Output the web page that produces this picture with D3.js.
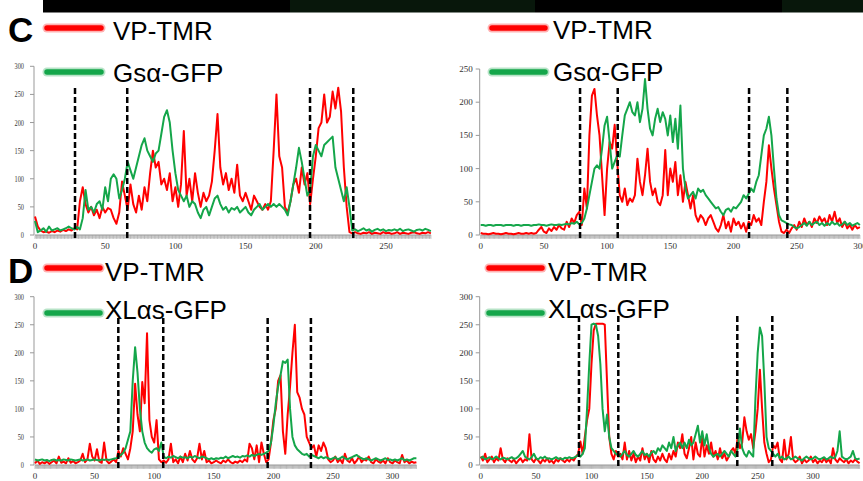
<!DOCTYPE html>
<html lang="en">
<head>
<meta charset="UTF-8">
<title></title>
<style>
    body { margin: 0; background: #fff; }
    svg { display: block; }
    .tick-label { font-family: "Liberation Serif", "Times New Roman", serif; font-size: 9px; fill: #333; }
    .legend-label { font-family: "Liberation Sans", Arial, sans-serif; font-size: 26px; fill: #000; }
    .panel-letter { font-family: "Liberation Sans", Arial, sans-serif; font-size: 35px; font-weight: bold; fill: #000; }
</style>
</head>
<body>
<svg id="chart" width="863" height="481"></svg>
<script src="https://cdnjs.cloudflare.com/ajax/libs/d3/7.8.5/d3.min.js"></script>
<script>
// profiles sampled every 2 px along the line scan
var sampleStep = 2;

var redName = "VP-TMR";
var gsName = "Gsα-GFP";
var xlName = "XLαs-GFP";

var cLeftRed = [33,15,8,5,6,4,7,5,8,6,9,7,10,8,12,10,
    60,85,55,40,50,35,45,30,50,40,48,45,30,20,40,95,
    70,45,90,55,40,70,45,85,60,110,150,120,130,90,100,80,
    110,60,85,50,90,185,70,100,60,110,75,50,75,60,70,95,
    150,215,120,90,110,80,100,75,125,70,60,75,60,45,70,60,
    50,45,55,45,60,150,250,140,120,50,40,60,90,100,75,120,
    90,110,55,100,140,190,200,250,200,210,255,225,262,220,120,50,
    5,3,5,3,2,4,3,5,2,4,3,2,5,3,4,2,
    3,5,2,4,3,2,4,5,3,2,4,3,5,3];
var cLeftGreen = [25,5,8,12,6,15,8,10,12,8,10,12,15,12,10,14,
    10,30,80,45,50,40,55,60,45,85,60,100,108,100,65,80,
    100,130,115,100,120,140,160,172,150,140,130,145,150,180,210,222,
    200,150,110,80,70,60,70,50,60,55,40,30,45,50,35,50,
    65,70,55,45,50,40,48,45,50,40,45,50,40,35,45,50,
    55,45,50,55,50,55,50,55,50,45,35,60,90,120,155,130,
    100,70,80,140,160,150,140,160,165,170,175,120,100,80,60,85,
    50,8,10,7,9,12,8,10,6,9,11,8,10,7,9,8,
    10,8,11,7,9,10,8,6,9,10,8,11,9,7];

var cRightRed = [3,2,2,1,2,3,2,2,1,2,3,2,2,1,2,3,2,2,3,2,3,2,3,
    8,12,5,3,10,6,12,8,15,10,8,20,12,25,18,30,
    35,15,70,40,150,210,220,180,150,90,30,100,140,130,166,110,
    60,50,70,45,55,50,60,115,80,60,90,130,80,60,70,50,
    45,60,128,60,100,80,110,60,90,50,80,60,40,60,30,20,
    30,25,15,25,30,20,10,5,15,30,10,20,5,25,15,20,
    10,18,5,20,15,30,20,25,15,50,80,135,100,70,45,20,
    5,3,8,3,10,15,8,20,12,25,15,20,12,25,18,28,
    20,25,15,30,20,35,18,25,12,20,10,15,8,15,10,12];
var cRightGreen = [15,15,14,15,15,14,15,15,15,14,15,15,15,14,15,15,14,15,15,15,14,15,15,16,15,15,14,15,16,15,15,16,15,16,17,
    16,18,17,20,16,18,25,40,60,80,100,105,100,130,165,178,
    140,100,110,120,118,150,180,190,200,185,180,200,170,190,235,190,
    160,150,175,190,170,185,175,150,180,140,175,130,195,100,70,55,
    60,65,55,70,65,68,60,55,50,45,40,42,35,30,38,40,
    35,42,40,45,50,60,55,62,70,65,80,90,120,150,160,178,
    150,100,55,30,22,20,18,16,15,12,10,12,15,18,14,20,
    15,18,20,15,18,14,18,15,20,16,18,14,16,20,15,18,
    14,16,18,15];

var dLeftRed = [3,8,2,5,3,6,2,5,8,3,15,4,6,3,12,4,
    7,3,5,8,20,5,10,38,15,8,28,6,4,40,8,3,
    6,10,5,25,15,30,20,10,30,60,145,90,60,148,110,235,
    80,50,40,80,10,5,8,4,10,38,5,10,3,15,5,20,
    8,25,10,5,12,38,10,25,5,8,3,5,8,5,3,8,
    5,10,5,3,6,4,8,5,10,6,38,30,10,35,5,40,
    20,5,10,40,80,100,150,160,60,20,90,140,200,250,130,120,
    100,90,50,40,30,35,15,35,25,40,30,10,5,8,15,5,
    10,3,20,8,5,12,3,8,15,5,10,8,15,5,3,10,
    6,4,8,3,12,5,3,8,5,3,18,5,8,3,6,4,
    5];
var dLeftGreen = [10,8,9,10,8,9,7,9,10,8,9,8,10,9,8,10,
    9,8,9,10,8,9,10,8,9,10,9,8,10,9,10,9,
    10,11,12,14,18,22,30,45,60,150,210,165,100,60,40,30,
    25,22,28,30,25,40,15,12,15,13,16,14,12,15,13,14,
    12,15,13,16,14,12,15,14,12,10,12,10,12,11,13,12,
    15,12,14,16,14,15,13,16,15,17,15,18,16,18,20,18,
    20,22,25,40,70,110,140,160,185,182,188,100,50,35,28,24,
    20,18,20,15,18,16,14,12,15,12,14,12,10,12,14,10,
    12,15,12,10,12,14,16,18,14,12,10,12,10,8,10,12,
    10,8,10,12,9,10,8,10,8,10,12,8,10,8,10,12,
    12];

var dRightRed = [15,8,20,5,10,15,5,12,8,30,10,5,12,8,5,10,
    3,8,12,5,10,8,55,10,5,12,8,3,10,6,12,5,
    8,3,10,6,12,8,5,10,6,12,8,15,20,42,20,50,
    80,100,180,240,252,252,252,252,250,150,50,20,10,25,15,20,
    10,40,10,25,8,20,5,15,8,30,10,20,5,25,10,5,
    15,8,20,10,5,20,10,25,15,40,30,55,20,12,30,50,
    10,40,20,15,50,15,35,20,40,15,25,10,30,12,20,8,
    15,25,30,20,50,30,40,85,60,45,55,30,60,100,170,100,
    40,20,5,10,35,30,40,10,5,45,10,20,50,10,5,8,
    15,3,10,5,8,15,5,10,3,8,5,12,5,10,3,30,
    10,5,12,8,5,10,3,8,5,10,6,3];
var dRightGreen = [12,15,10,12,14,10,12,15,12,10,13,12,10,12,14,11,
    12,15,20,25,15,12,10,14,20,12,10,14,12,15,11,12,
    10,12,14,11,12,10,13,12,14,12,13,15,18,15,20,30,
    100,180,250,252,250,230,180,100,60,90,50,30,25,20,18,15,
    20,25,18,15,20,25,18,15,20,25,18,20,15,22,25,20,
    30,25,35,30,25,40,30,50,25,35,40,30,40,30,45,35,
    40,55,70,40,60,35,55,30,20,15,18,20,15,20,25,20,
    15,25,20,15,30,65,30,20,15,25,20,15,120,200,245,230,
    150,50,30,25,20,15,20,12,15,10,12,15,10,12,15,12,
    10,8,12,15,12,10,12,15,12,10,12,14,10,12,15,12,
    14,25,60,15,12,10,12,15,25,12,10,12];

// dashed boundaries (scan position)
var cLeftCuts = [28.5, 65.7, 195.9, 226.7];
var cRightCuts = [78.6, 108.4, 212.3, 242.6];
var dLeftCuts = [69.9, 107.6, 195.2, 231.5];
var dRightCuts = [88.7, 124.2, 231.6, 263.2];

var yTicks300 = [0, 50, 100, 150, 200, 250, 300];
var yTicks250 = [0, 50, 100, 150, 200, 250];
var xTicks = [0, 50, 100, 150, 200, 250, 300];

var panels = [
    {red: cLeftRed, green: cLeftGreen, greenName: gsName, cuts: cLeftCuts, xMax: 282, yMax: 300, yTicks: yTicks300,
     left: 35, right: 430.9, top: 66.3, bottom: 235, cutTop: 88, narrow: true,
     legLine: [47, 101], legText: 113, legY: [28, 72], textY: [40, 82], letter: "C", letterY: 42},
    {red: cRightRed, green: cRightGreen, greenName: gsName, cuts: cRightCuts, xMax: 300, yMax: 250, yTicks: yTicks250,
     left: 480.7, right: 859.9, top: 69, bottom: 235, cutTop: 88, narrow: false,
     legLine: [492, 545], legText: 553, legY: [28, 72], textY: [39, 81]},
    {red: dLeftRed, green: dLeftGreen, greenName: xlName, cuts: dLeftCuts, xMax: 320, yMax: 300, yTicks: yTicks300,
     left: 35, right: 416.4, top: 296.7, bottom: 465, cutTop: 318, narrow: true,
     legLine: [47, 100], legText: 105, legY: [268, 313], textY: [281, 319], letter: "D", letterY: 283},
    {red: dRightRed, green: dRightGreen, greenName: xlName, cuts: dRightCuts, xMax: 342, yMax: 300, yTicks: yTicks300,
     left: 480.7, right: 859.6, top: 296.7, bottom: 465, cutTop: 316, narrow: false,
     legLine: [489, 542], legText: 548, legY: [268, 313], textY: [281, 318]}
];

var red = "#ff0000", green = "#14a64a";
var svg = d3.select("#chart");

// dark strip at the top (remains of the image above)
[[43, 290, "#000"], [290, 535, "#08170b"], [535, 782, "#000"], [782, 863, "#08170b"]].forEach(function(s) {
    svg.append("rect").attr("x", s[0]).attr("y", 0).attr("width", s[1] - s[0]).attr("height", 12.5).attr("fill", s[2]);
});

panels.forEach(function(p) {
    var x = d3.scaleLinear().domain([0, p.xMax]).range([p.left, p.right]);
    var y = d3.scaleLinear().domain([0, p.yMax]).range([p.bottom, p.top]);
    var g = svg.append("g");

    // x axis: grey hatched band
    var minor = d3.range(0, p.xMax + 1, 1);
    g.append("rect").attr("x", p.left).attr("y", p.bottom).attr("width", p.right - p.left).attr("height", 3)
        .attr("fill", "#e2e2e2");
    g.selectAll(".minor").data(minor).enter().append("line")
        .attr("x1", function(d) { return x(d); }).attr("x2", function(d) { return x(d); })
        .attr("y1", p.bottom).attr("y2", p.bottom + 4)
        .attr("stroke", "#9a9a9a").attr("stroke-width", 0.6);
    g.append("line").attr("x1", p.left).attr("x2", p.right).attr("y1", p.bottom).attr("y2", p.bottom)
        .attr("stroke", "#999");
    g.selectAll(".xl").data(xTicks.filter(function(d) { return d <= p.xMax; })).enter().append("text")
        .attr("class", "tick-label")
        .attr("x", function(d) { return x(d); }).attr("y", p.bottom + 14)
        .attr("text-anchor", "middle").text(function(d) { return d; });

    // y axis
    g.append("line").attr("x1", p.left - 1).attr("x2", p.left - 1).attr("y1", p.bottom).attr("y2", y(p.yMax))
        .attr("stroke", "#999");
    g.selectAll(".yt").data(p.yTicks).enter().append("line")
        .attr("x1", p.left - 5).attr("x2", p.left - 1)
        .attr("y1", function(d) { return y(d); }).attr("y2", function(d) { return y(d); })
        .attr("stroke", "#999");
    g.selectAll(".yl").data(p.yTicks).enter().append("text")
        .attr("class", "tick-label")
        .attr("text-anchor", "end").attr("dy", "0.33em")
        .attr("transform", function(d) {
            return "translate(" + (p.left - (p.narrow ? 11 : 8)) + "," + y(d) + ")" + (p.narrow ? " scale(0.7,1)" : "");
        })
        .text(function(d) { return d; });

    // profiles
    var line = d3.line()
        .x(function(d, i) { return x(i * sampleStep); })
        .y(function(d) { return y(d); });
    g.append("path").datum(p.red).attr("d", line)
        .attr("fill", "none").attr("stroke", red).attr("stroke-width", 2).attr("stroke-linejoin", "round");
    g.append("path").datum(p.green).attr("d", line)
        .attr("fill", "none").attr("stroke", green).attr("stroke-width", 2).attr("stroke-linejoin", "round");

    // dashed boundaries
    g.selectAll(".cut").data(p.cuts).enter().append("line")
        .attr("x1", function(d) { return x(d); }).attr("x2", function(d) { return x(d); })
        .attr("y1", p.cutTop).attr("y2", p.bottom + 4)
        .attr("stroke", "#000").attr("stroke-width", 2.5).attr("stroke-dasharray", "6,3");

    // legend
    [[red, redName], [green, p.greenName]].forEach(function(s, i) {
        g.append("line").attr("x1", p.legLine[0]).attr("x2", p.legLine[1])
            .attr("y1", p.legY[i]).attr("y2", p.legY[i])
            .attr("stroke", s[0]).attr("stroke-width", 9).attr("stroke-linecap", "round").attr("opacity", 0.3);
        g.append("line").attr("x1", p.legLine[0]).attr("x2", p.legLine[1])
            .attr("y1", p.legY[i]).attr("y2", p.legY[i])
            .attr("stroke", s[0]).attr("stroke-width", 5.5).attr("stroke-linecap", "round");
        g.append("text").attr("class", "legend-label")
            .attr("x", p.legText).attr("y", p.textY[i]).text(s[1]);
    });

    if (p.letter) {
        g.append("text").attr("class", "panel-letter").attr("x", 8).attr("y", p.letterY).text(p.letter);
    }
});
</script>
</body>
</html>
